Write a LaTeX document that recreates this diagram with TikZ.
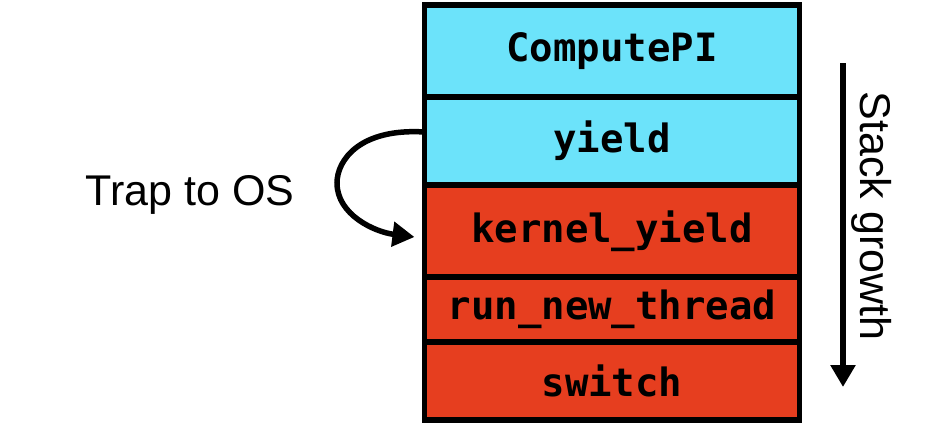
\documentclass[tikz,border=0pt]{standalone}
\usepackage{fontspec}
\setmainfont{Liberation Sans}
\setmonofont{DejaVu Sans Mono}
\usetikzlibrary{positioning,arrows.meta}
\definecolor{userblue}{HTML}{6CE3FA}
\definecolor{kernelred}{HTML}{E63E1F}
\begin{document}
\begin{tikzpicture}[x=1pt,y=-1pt,
        frame/.style={draw=black,line width=5.5pt,outer sep=0pt,minimum width=375pt,
          font=\fontsize{39}{40}\selectfont\ttfamily\bfseries},
        userframe/.style={frame,fill=userblue},
        kernelframe/.style={frame,fill=kernelred},
        bigarrow/.style={line width=5.5pt,-{Triangle[length=22pt,width=24pt]}},
        caption/.style={font=\fontsize{43}{44}\selectfont}]
  \useasboundingbox (0,0) rectangle (930,442);
  \node[userframe,minimum height=92pt] (compute) at (612,51) {ComputePI};
  \node[userframe,minimum height=88pt,below=0pt of compute] (yield) {yield};
  \node[kernelframe,minimum height=92pt,below=0pt of yield] (kyield) {kernel\_yield};
  \node[kernelframe,minimum height=65pt,below=0pt of kyield] (runnew) {run\_new\_thread};
  \node[kernelframe,minimum height=78pt,below=0pt of runnew] (switch) {switch};
  \node[caption] (trap) at (190,195) {Trap to OS};
  \draw[bigarrow] ([yshift=9pt]yield.west)
    .. controls (360,128) and (337,160) .. (337,183)
    .. controls (337,215) and (375,232) .. ([xshift=-10pt,yshift=-6pt]kyield.west);
  \coordinate (growtop) at (843,63);
  \coordinate (growbot) at (843,387);
  \draw[bigarrow] (growtop) -- (growbot);
  \node[caption,rotate=-90] (growth) at (872,216) {Stack growth};
\end{tikzpicture}
\end{document}
